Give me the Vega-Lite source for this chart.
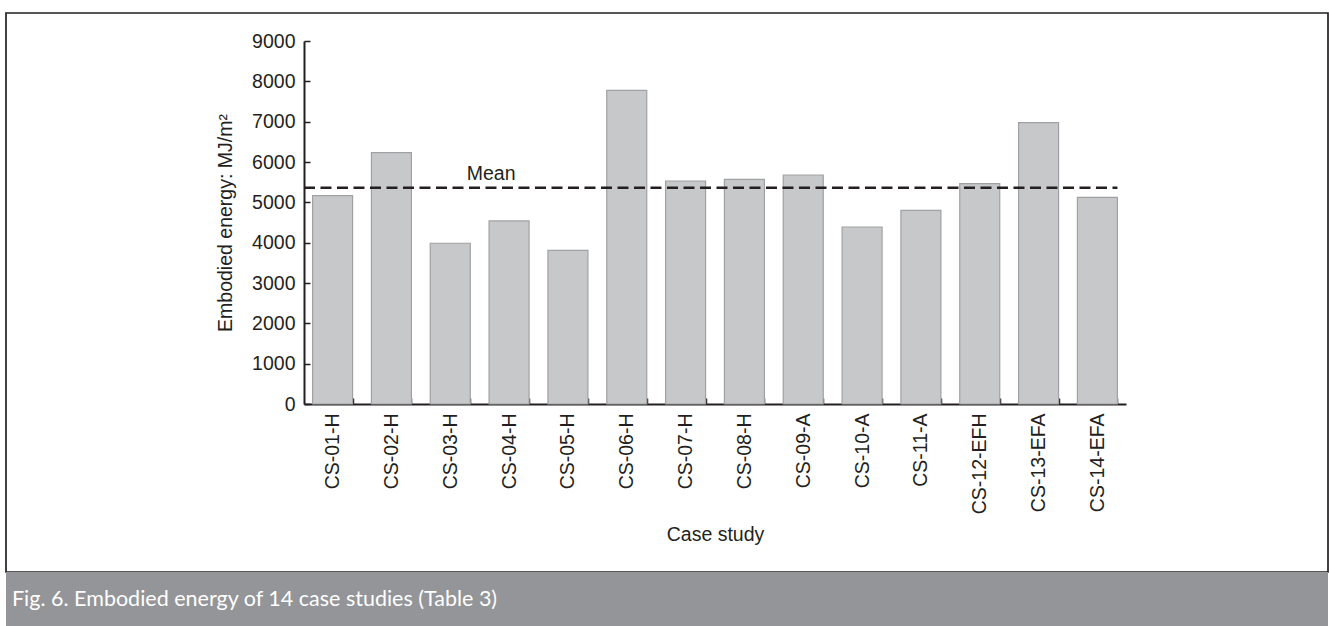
{
  "$schema": "https://vega.github.io/schema/vega-lite/v6.json",
  "background": "white",
  "padding": {"left": -5, "top": 12, "right": 0, "bottom": 0},
  "spacing": -1,
  "bounds": "flush",
  "config": {
    "font": "Liberation Sans",
    "view": {"stroke": null},
    "axis": {
      "domainColor": "#231f20",
      "domainWidth": 2,
      "tickColor": "#231f20",
      "tickWidth": 1.5,
      "tickSize": -6,
      "labelColor": "#231f20",
      "labelFontSize": 19.5,
      "labelFont": "Liberation Sans",
      "titleColor": "#231f20",
      "titleFontSize": 19.5,
      "titleFont": "Liberation Sans",
      "titleFontWeight": "normal",
      "grid": false
    }
  },
  "vconcat": [
    {
      "width": 1322,
      "height": 559,
      "view": {"stroke": "#231f20", "strokeWidth": 1.7, "fill": "white"},
      "data": {
        "values": [
          {"case": "CS-01-H", "value": 5166},
          {"case": "CS-02-H", "value": 6232},
          {"case": "CS-03-H", "value": 3985},
          {"case": "CS-04-H", "value": 4538},
          {"case": "CS-05-H", "value": 3811},
          {"case": "CS-06-H", "value": 7778},
          {"case": "CS-07-H", "value": 5529},
          {"case": "CS-08-H", "value": 5571},
          {"case": "CS-09-A", "value": 5678},
          {"case": "CS-10-A", "value": 4389},
          {"case": "CS-11-A", "value": 4802},
          {"case": "CS-12-EFH", "value": 5463},
          {"case": "CS-13-EFA", "value": 6976},
          {"case": "CS-14-EFA", "value": 5124}
        ]
      },
      "layer": [
        {
          "mark": {"type": "bar", "fill": "#c7c8ca", "stroke": "#a0a1a4", "strokeWidth": 1.2},
          "encoding": {
            "x": {
              "field": "case",
              "type": "nominal",
              "sort": null,
              "scale": {"range": [298, 1120], "paddingInner": 0.32, "paddingOuter": 0.146},
              "axis": {
                "title": "Case study",
                "offset": -168,
                "labelAngle": 270,
                "labelAlign": "right",
                "labelBaseline": "middle",
                "labelPadding": 15,
                "tickBand": "extent",
                "titlePadding": 12
              }
            },
            "y": {
              "field": "value",
              "type": "quantitative",
              "scale": {"domain": [0, 9000], "range": [391, 28], "nice": false},
              "axis": {
                "title": "Embodied energy: MJ/m²",
                "offset": -298,
                "values": [0, 1000, 2000, 3000, 4000, 5000, 6000, 7000, 8000, 9000],
                "format": "d",
                "labelPadding": 15,
                "titlePadding": 16
              }
            }
          }
        },
        {
          "mark": {"type": "rule", "stroke": "#231f20", "strokeWidth": 2.5, "strokeDash": [11, 5.5]},
          "encoding": {
            "y": {"aggregate": "mean", "field": "value", "type": "quantitative"},
            "x": {"datum": "CS-01-H", "bandPosition": -0.215},
            "x2": {"datum": "CS-14-EFA", "bandPosition": 1}
          }
        },
        {
          "mark": {"type": "text", "text": "Mean", "font": "Liberation Sans", "fontSize": 19.5, "color": "#231f20", "align": "center", "baseline": "alphabetic", "dy": -8},
          "encoding": {
            "y": {"aggregate": "mean", "field": "value", "type": "quantitative"},
            "x": {"datum": "CS-04-H", "bandPosition": 0.05}
          }
        }
      ]
    },
    {
      "width": 1322,
      "height": 57,
      "view": {"stroke": null, "fill": "#939598"},
      "data": {"values": [{}]},
      "title": {
        "text": "Fig. 6. Embodied energy of 14 case studies (Table 3)",
        "orient": "top",
        "anchor": "start",
        "frame": "group",
        "offset": 0,
        "dx": 6,
        "dy": 49,
        "baseline": "middle",
        "font": "Lato",
        "fontSize": 21.5,
        "fontWeight": "normal",
        "color": "#ffffff"
      },
      "mark": {"type": "text"},
      "encoding": {"text": {"datum": ""}}
    }
  ]
}
